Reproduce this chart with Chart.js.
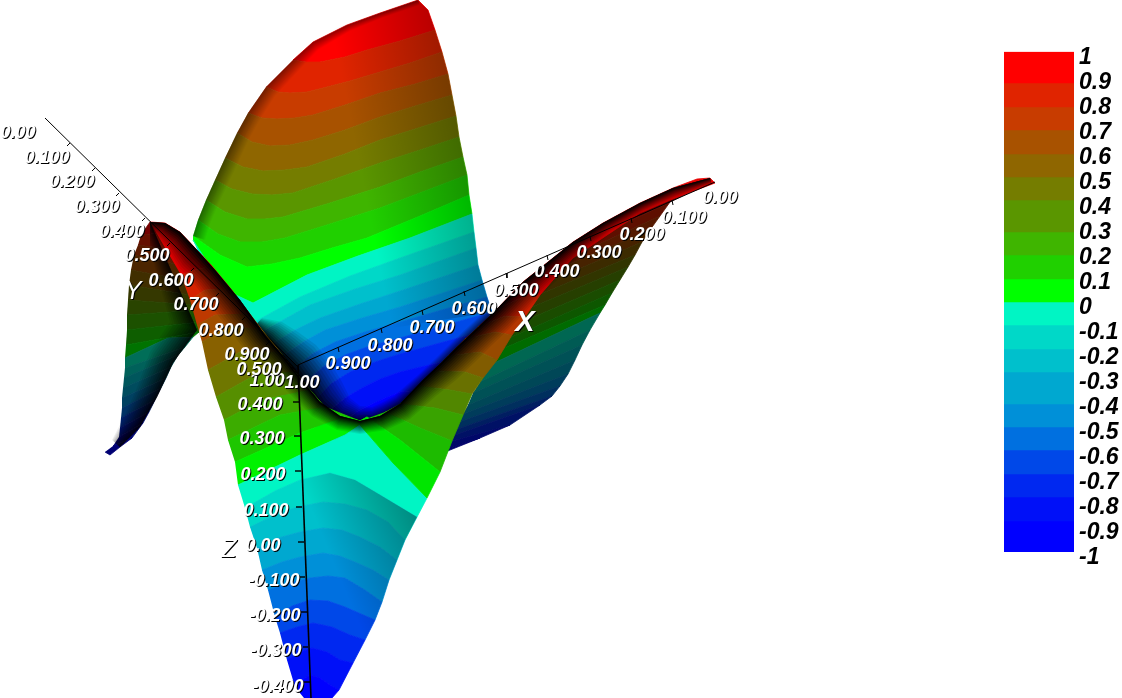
<!DOCTYPE html>
<html>
<head>
<meta charset="utf-8">
<title>Surface</title>
<script src="https://cdn.jsdelivr.net/npm/chart.js@4"></script>
<style>
body { margin: 0; background: #fff; }
#surface { position: absolute; left: 0; top: 0; }
#bar-box { position: absolute; left: 1004px; top: 33px; width: 118px; height: 539px; }
</style>
</head>
<body>
<canvas id="surface" width="1122" height="698"></canvas>
<div id="bar-box"><canvas id="colorbar"></canvas></div>
<script>
// Colour bands, top of the bar first
const band_colors = ['#ff0000','#e02400','#c83c00','#a85200','#8f6600','#757d00','#5a9600','#3fb500','#20d000','#00ff00',
    '#00f5c4','#00d8c8','#00c0cc','#00a8d0','#0090d8','#0070e0','#0048e8','#0028f0','#0010f8','#0000ff'];
const band_edges = [1, 0.876, 0.78, 0.688, 0.592, 0.5, 0.408, 0.28, 0.188, 0.092, 0, -0.092, -0.188, -0.28, -0.408, -0.5, -0.592, -0.688, -0.78, -0.876, -1];
const bar_ticks = ['-1','-0.9','-0.8','-0.7','-0.6','-0.5','-0.4','-0.3','-0.2','-0.1','0','0.1','0.2','0.3','0.4','0.5','0.6','0.7','0.8','0.9','1'];

// Contours, one row per level. Picture units, y going down.
const back_rows = [
    [[293,60],[313,42],[347,25],[380,13],[418,0],[428,10],[435,30]],
    [[293,60],[306,62],[320,62],[345,57],[367,50],[400,41],[435,30]],
    [[266,87],[278,92],[290,93],[307,92],[323,88],[350,81],[380,72],[410,63],[442,52]],
    [[248,113],[262,118],[277,119],[295,118],[313,115],[345,105],[380,93],[415,84],[448,74]],
    [[237,133],[252,142],[270,146],[290,145],[313,140],[345,130],[380,117],[415,106],[452,95]],
    [[225,158],[243,167],[263,171],[285,170],[307,167],[345,154],[380,140],[415,129],[456,116]],
    [[215,180],[232,189],[252,194],[272,195],[293,193],[335,179],[380,163],[420,150],[459,137]],
    [[206,200],[225,212],[247,219],[265,219],[283,217],[330,203],[380,187],[420,172],[463,157]],
    [[198,220],[218,234],[240,242],[262,242],[285,238],[330,224],[380,208],[425,191],[467,175]],
    [[193,236],[220,255],[247,267],[272,264],[300,258],[332,248],[367,238],[420,216],[469,195]],
    [[193,240],[225,290],[253,303],[280,289],[307,275],[358,256],[410,238],[472,214]],
    [[235,335],[258,320],[300,297],[350,276],[400,258],[474,232]],
    [[245,350],[265,330],[310,305],[355,289],[400,275],[476,248]],
    [[255,365],[275,342],[295,330],[320,318],[360,304],[400,291],[478,265]],
    [[265,375],[285,354],[303,342],[325,330],[362,318],[400,307],[482,280]],
    [[280,390],[295,368],[312,354],[335,342],[365,332],[400,322],[487,297]],
    [[290,405],[305,382],[323,367],[345,355],[370,346],[400,338],[492,312]],
    [[305,420],[318,397],[332,383],[350,372],[375,362],[400,354],[480,332]],
    [[320,430],[330,410],[345,398],[362,388],[380,379],[400,372],[450,360]],
    [[335,440],[345,422],[356,412],[370,405],[385,398],[400,392],[420,390]],
    [[335,445],[400,420],[480,345]]
];
const left_rows = [
    [[141,235],[150,222],[170,232]],
    [[141,235],[170,232]],
    [[138,245],[175,250]],
    [[134,255],[180,265]],
    [[131,270],[185,280]],
    [[129,285],[190,295]],
    [[128,300],[195,305]],
    [[127,315],[200,310]],
    [[127,330],[200,322]],
    [[126,345],[199,332]],
    [[125,358],[168,338],[193,337]],
    [[125,368],[185,347]],
    [[124,378],[178,355]],
    [[123,388],[171,367]],
    [[122,398],[166,378]],
    [[122,408],[161,388]],
    [[121,418],[155,400]],
    [[120,428],[149,412]],
    [[119,437],[143,423]],
    [[113,446],[132,438]],
    [[105,452],[110,455],[120,447]]
];
const under_rows = [
    [[600,225],[712,181],[670,202]],
    [[590,240],[670,202]],
    [[575,255],[660,216]],
    [[560,268],[650,230]],
    [[548,282],[642,242]],
    [[538,295],[635,255]],
    [[525,310],[628,267]],
    [[515,325],[620,280]],
    [[505,340],[612,293]],
    [[495,352],[605,305]],
    [[490,365],[600,313]],
    [[480,382],[590,330]],
    [[473,393],[582,345]],
    [[468,405],[575,360]],
    [[463,414],[568,374]],
    [[459,422],[560,386]],
    [[455,430],[552,396]],
    [[452,436],[540,405]],
    [[449,442],[510,425]],
    [[447,449],[480,438]],
    [[445,452],[450,450]]
];
const front_rows = [
    [[150,222],[165,223],[180,232],[197,250],[212,266]],
    [[181,275],[195,270],[212,266]],
    [[190,300],[205,290],[231,289]],
    [[197,325],[215,315],[250,314]],
    [[202,342],[230,326],[262,330]],
    [[208,370],[240,352],[280,352]],
    [[216,397],[255,375],[295,372]],
    [[224,420],[262,400],[310,390]],
    [[228,440],[280,415],[325,407]],
    [[235,462],[300,433],[345,417],[360,421]],
    [[238,485],[300,455],[345,435],[360,425]]
];
const lower_rows = [
    [[238,485],[300,455],[345,435],[360,425],[393,463],[427,498]],
    [[245,508],[275,491],[300,480],[330,473],[355,480],[377,493],[417,517]],
    [[250,527],[275,515],[297,507],[323,502],[345,504],[367,510],[388,522],[405,540]],
    [[257,548],[278,538],[300,532],[323,528],[342,530],[360,537],[380,547],[397,560]],
    [[262,570],[282,562],[300,557],[323,553],[340,556],[355,562],[373,570],[389,580]],
    [[268,590],[290,583],[310,578],[328,576],[345,578],[365,590],[382,602]],
    [[275,617],[292,606],[310,600],[328,601],[345,607],[375,620]],
    [[280,633],[297,627],[313,623],[332,627],[350,635],[365,640]],
    [[287,660],[300,652],[312,648],[327,652],[340,660],[353,663]],
    [[295,687],[302,680],[310,675],[320,678],[330,685],[339,690]],
    [[304,698],[332,698]]
];
const stripe_rows = [
    [[497,309],[523,282],[573,242],[603,223],[640,203],[673,188],[697,179],[710,178],[715,183],[670,200],[640,213],[607,235],[573,258],[553,280],[540,295]],
    [[497,309],[525,296],[540,295]],
    [[478,327],[505,316],[525,317]],
    [[465,339],[495,332],[512,335]],
    [[448,356],[480,352],[497,360]],
    [[433,371],[465,372],[483,378]],
    [[418,386],[450,390],[472,394]],
    [[400,404],[435,408],[463,415]],
    [[385,412],[420,428],[452,441]],
    [[360,421],[367,417],[400,440],[440,472]],
    [[360,425],[393,463],[427,498]]
];

// Dark falloff: pairs of [edge x, edge y, inner x, inner y]
const rim_shade = [[193,236,205,240],[198,220,210,224],[206,200,218,205],[215,180,227,186],[225,158,237,165],[237,133,248,141],[248,113,259,121],[266,87,275,96],[293,60,300,69],[313,42,318,50],[347,25,350,31],[380,13,382,18],[418,0,420,5]];
const valley_shade = [[255,326,262,318],[267,340,282,322],[280,355,298,332],[293,370,316,345],[307,390,330,362],[318,407,342,382],[335,420,350,398],[355,424,360,406],[372,423,372,407],[388,416,381,403],[403,406,394,396],[426,383,418,375],[443,367,435,359],[460,350,452,342],[478,333,470,325],[496,316,488,308]];
const lobe_shade = [[150,222,150,250],[197,330,170,322],[173,363,150,352],[157,397,138,385],[140,427,125,415],[120,447,112,440]];
const ridge_shade = [[150,222,152,232],[165,223,158,240],[180,232,168,252],[197,250,178,270],[215,270,195,285],[240,300,220,318],[265,335,245,350],[285,358,268,372],[300,378,288,392],[320,402,312,416],[340,416,337,430],[360,421,360,434],[380,416,386,430],[400,404,410,419],[423,380,436,396],[440,364,456,380],[457,347,475,362],[475,330,492,345],[493,313,510,328],[523,282,540,296],[573,242,585,254],[603,223,612,232],[640,203,645,212],[673,188,676,198],[710,178,712,184]];

// Large soft falloffs: outline, then gradient start and end
const back_right_outline = [[418,0],[428,10],[435,30],[442,52],[448,74],[452,95],[456,116],[459,137],[463,157],[467,175],[469,195],[472,214],[474,232],[476,248],[478,265],[482,280],[487,297],[492,312],[380,330],[340,150],[330,30]];
const back_right_grad = [460,150,360,170];
const lower_right_outline = [[300,480],[330,473],[355,480],[377,493],[417,517],[405,540],[397,560],[389,580],[382,602],[375,620],[365,640],[353,663],[339,690],[320,678],[310,600],[310,500]];
const lower_right_grad = [415,520,330,555];

// Axes: start, end and the point where each tick leaves the line
const y_axis = [[45,118],[298,367]];
const x_axis = [[298,365],[715,182]];
const z_axis = [[298,365],[311,698]];
const y_ticks = [[70,143,67,146],[95,168,92,171],[119,193,116,196],[145,218,142,221],[170,243,167,246],[194,268,191,271],[219,293,216,296],[245,317,242,320],[269,342,266,345]];
const x_ticks = [[338,347,339,352],[381,328,382,333],[422,310,423,315],[464,291,465,296],[506,273,507,278],[547,255,548,260],[590,236,591,241],[631,218,632,223],[672,200,673,205]];
const z_ticks = [[299,402,293,402],[300,436,294,436],[301,471,295,471],[302,507,296,507],[304,542,298,542],[305,577,300,577],[307,612,301,612],[308,647,303,647],[310,682,304,682]];

const y_labels = [['0.00',18,133],['0.100',47,158],['0.200',72,182],['0.300',97,207],['0.400',122,232],['0.500',147,256],['0.600',171,281],['0.700',196,305],['0.800',221,331],['0.900',247,355],['1.00',267,381]];
const x_labels = [['1.00',302,383],['0.900',348,364],['0.800',390,346],['0.700',432,328],['0.600',474,309],['0.500',516,291],['0.400',557,272],['0.300',599,253],['0.200',642,235],['0.100',684,218],['0.00',720,198]];
const z_labels = [['0.500',259,370],['0.400',260,405],['0.300',262,439],['0.200',263,475],['0.100',266,511],['0.00',263,546],['-0.100',274,581],['-0.200',275,616],['-0.300',276,651],['-0.400',278,687]];
const small_titles = [['Y',133,292],['Z',229,550]];
const big_titles = [['X',525,323]];


const surface_ctx = document.getElementById('surface').getContext('2d');

function to_points(row) {
    return row.map(p => ({x: p[0], y: p[1]}));
}

function dim_color(hex, factor) {
    const r = parseInt(hex.slice(1, 3), 16) * factor;
    const g = parseInt(hex.slice(3, 5), 16) * factor;
    const b = parseInt(hex.slice(5, 7), 16) * factor;
    return 'rgb(' + Math.round(r) + ',' + Math.round(g) + ',' + Math.round(b) + ')';
}

function filled(points, color, border) {
    return {data: points, showLine: true, fill: 'shape', backgroundColor: color, borderColor: color, borderWidth: border, pointRadius: 0, tension: 0};
}

function band_sets(rows, factor, first_band) {
    let sets = [];
    for (let i = 0; i + 1 < rows.length; i++) {
        const color = dim_color(band_colors[first_band + i], factor);
        const points = to_points(rows[i]).concat(to_points(rows[i + 1]).reverse());
        sets.push(filled(points, color, 0.8));
    }
    return sets;
}

// nested layers from the edge inwards, stacked so the darkness falls off evenly
function shade_sets(pairs, alpha) {
    const layers = 12;
    let sets = [];
    const clear_at = t => 1 - alpha * (1 - t);
    for (let k = 1; k <= layers; k++) {
        const t = k / layers;
        const a = 1 - clear_at((k - 1) / layers) / clear_at(t);
        let inner = [];
        pairs.forEach(p => inner.push({x: p[0] + (p[2] - p[0]) * t, y: p[1] + (p[3] - p[1]) * t}));
        const edge = pairs.map(p => ({x: p[0], y: p[1]}));
        sets.push(filled(edge.concat(inner.reverse()), 'rgba(0,0,0,' + a + ')', 0));
    }
    return sets;
}

function soft_shade(outline, g, alpha) {
    const grad = surface_ctx.createLinearGradient(g[0], g[1], g[2], g[3]);
    grad.addColorStop(0, 'rgba(0,0,0,' + alpha + ')');
    grad.addColorStop(1, 'rgba(0,0,0,0)');
    return filled(to_points(outline), grad, 0);
}

function line_set(points, width) {
    return {data: to_points(points), showLine: true, fill: false, borderColor: '#000', borderWidth: width, pointRadius: 0, tension: 0};
}

function tick_sets(ticks, width) {
    return ticks.map(t => line_set([[t[0], t[1]], [t[2], t[3]]], width));
}

// paint order, back to front. Chart.js draws the first dataset last so it gets reversed below
let paint = [];
paint = paint.concat(band_sets(back_rows, 1, 0));
paint = paint.concat(shade_sets(rim_shade, 0.4));
paint.push(soft_shade(back_right_outline, back_right_grad, 0.28));
paint = paint.concat(shade_sets(valley_shade, 0.97));
paint = paint.concat(band_sets(left_rows, 0.45, 0));
paint = paint.concat(shade_sets(lobe_shade, 0.8));
paint = paint.concat(band_sets(under_rows, 0.42, 0));
paint = paint.concat(band_sets(front_rows, 0.95, 0));
paint = paint.concat(band_sets(lower_rows, 1, 10));
paint.push(soft_shade(lower_right_outline, lower_right_grad, 0.35));
paint = paint.concat(band_sets(stripe_rows, 0.9, 0));
paint = paint.concat(shade_sets(ridge_shade, 0.97));
paint.push(line_set(y_axis, 1));
paint.push(line_set(x_axis, 1));
paint.push(line_set(z_axis, 1.6));
paint = paint.concat(tick_sets(y_ticks, 1));
paint = paint.concat(tick_sets(x_ticks, 1));
paint = paint.concat(tick_sets(z_ticks, 1.4));

const axis_text = {
    id: 'axis_text',
    afterDatasetsDraw(chart) {
        const ctx = chart.ctx;
        const sx = chart.scales.x;
        const sy = chart.scales.y;
        ctx.save();
        ctx.textAlign = 'center';
        ctx.textBaseline = 'middle';
        function put(list, font, shift) {
            ctx.font = font;
            list.forEach(l => {
                const px = sx.getPixelForValue(l[1]);
                const py = sy.getPixelForValue(l[2]);
                ctx.fillStyle = '#000';
                ctx.fillText(l[0], px + shift, py + shift);
                ctx.fillStyle = '#fff';
                ctx.fillText(l[0], px, py);
            });
        }
        put(y_labels, 'italic bold 18px "Liberation Sans"', 1);
        put(x_labels, 'italic bold 18px "Liberation Sans"', 1);
        put(z_labels, 'italic bold 18px "Liberation Sans"', 1);
        put(small_titles, 'italic 25px "Liberation Sans"', 1);
        put(big_titles, 'italic bold 29px "Liberation Sans"', 1);
        ctx.restore();
    }
};

new Chart(surface_ctx, {
    type: 'scatter',
    data: {datasets: paint.reverse()},
    options: {
        responsive: false,
        animation: false,
        events: [],
        layout: {padding: 0},
        plugins: {legend: {display: false}, tooltip: {enabled: false}},
        scales: {
            x: {type: 'linear', min: 0, max: 1122, display: false},
            y: {type: 'linear', min: 0, max: 698, reverse: true, display: false}
        }
    },
    plugins: [axis_text]
});

// Colour bar
let bar_sets = [];
for (let i = 0; i < band_colors.length; i++) {
    bar_sets.push({data: [[band_edges[i + 1], band_edges[i]]], backgroundColor: band_colors[i], borderWidth: 0, barPercentage: 1, categoryPercentage: 1, grouped: false});
}

new Chart(document.getElementById('colorbar'), {
    type: 'bar',
    data: {labels: ['value'], datasets: bar_sets},
    options: {
        responsive: true,
        maintainAspectRatio: false,
        animation: false,
        events: [],
        layout: {padding: {top: 10, bottom: 20, left: 0, right: 0}},
        plugins: {legend: {display: false}, tooltip: {enabled: false}},
        scales: {
            x: {display: false},
            y: {
                position: 'right',
                min: -1,
                max: 1,
                afterFit: function (scale) { scale.width = 48; },
                grid: {display: false, drawTicks: false},
                border: {display: false},
                ticks: {
                    stepSize: 0.1,
                    autoSkip: false,
                    padding: 5,
                    labelOffset: 6,
                    color: '#000',
                    font: {family: '"Liberation Sans"', size: 23, style: 'italic', weight: 'bold'},
                    callback: function (value, index) { return bar_ticks[index]; }
                }
            }
        }
    }
});
</script>
</body>
</html>
